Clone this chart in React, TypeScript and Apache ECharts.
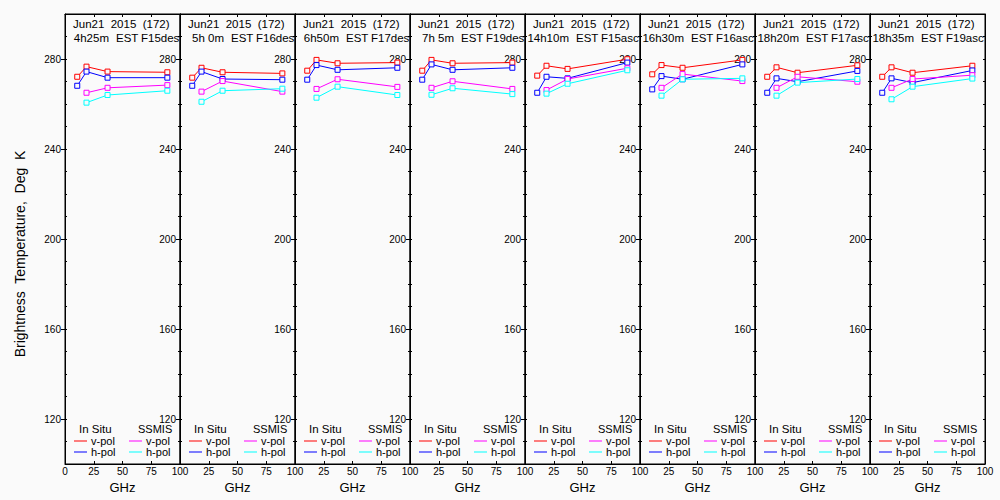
import React, { useEffect, useRef } from 'react';
import * as echarts from 'echarts';

// ---------- data ----------
const freqInSitu = [10.65, 18.7, 37, 89];
const freqSsmis = [18.7, 37, 89];
const dateLabel = 'Jun21  2015  (172)';
const passTimes = ['4h25m', '5h 0m', '6h50m', '7h 5m', '14h10m', '16h30m', '18h20m', '18h35m'];
const zoneLabel = 'EST';
const satellites = ['F15desc', 'F16desc', 'F17desc', 'F19desc', 'F15asc', 'F16asc', 'F17asc', 'F19asc'];

const inSituV = [
  [272.1, 276.6, 274.4, 274.1],
  [271.7, 276.1, 274.1, 273.6],
  [274.8, 279.6, 278.1, 278.4],
  [274.8, 279.6, 278.1, 278.4],
  [272.6, 277.0, 275.6, 279.9],
  [273.2, 277.3, 276.1, 279.6],
  [272.1, 276.3, 273.9, 277.2],
  [272.1, 276.3, 273.9, 277.0],
];
const inSituH = [
  [268.1, 274.4, 271.7, 271.7],
  [268.1, 274.4, 271.1, 270.8],
  [270.8, 277.3, 275.2, 276.1],
  [270.8, 277.6, 275.2, 276.1],
  [265.0, 272.1, 271.4, 278.4],
  [266.5, 272.4, 271.0, 277.6],
  [265.0, 271.4, 269.9, 274.7],
  [265.0, 271.4, 269.5, 274.9],
];
const ssmisV = [
  [265.0, 267.2, 268.4],
  [265.5, 270.2, 265.5],
  [266.7, 271.0, 267.6],
  [267.2, 270.1, 266.7],
  [266.2, 271.1, 275.9],
  [267.2, 273.3, 270.2],
  [267.2, 272.1, 269.9],
  [267.2, 271.1, 272.8],
];
const ssmisH = [
  [260.6, 264.0, 265.9],
  [261.0, 265.9, 266.8],
  [262.8, 267.7, 264.0],
  [264.1, 267.0, 264.4],
  [264.6, 269.0, 275.0],
  [263.7, 271.0, 271.4],
  [263.7, 269.5, 271.1],
  [262.1, 267.7, 271.3],
];
const yMajorTicks = [120, 160, 200, 240, 280];
const yAxisTitle = 'Brightness  Temperature,  Deg  K';
const xAxisTitle = 'GHz';
const legendGroups = ['In Situ', 'SSMIS'];
const legendPols = ['v-pol', 'h-pol'];

// ---------- styling / layout ----------
const BG = '#fafafa';
const FONT = '"Liberation Sans", Arial, sans-serif';
const COLORS = { inV: '#ff0000', inH: '#0000ff', ssV: '#ff00ff', ssH: '#00ffff' };
const PLOT_LEFT = 65;
const PANEL_W = 115;
const PLOT_TOP = 14;
const PLOT_H = 450;

function buildOption() {
  const grids: any[] = [];
  const xAxes: any[] = [];
  const yAxes: any[] = [];
  const series: any[] = [];
  const graphics: any[] = [];

  for (let i = 0; i < passTimes.length; i++) {
    const left = PLOT_LEFT + PANEL_W * i;
    grids.push({
      left,
      top: PLOT_TOP,
      width: PANEL_W,
      height: PLOT_H,
      show: true,
      borderColor: '#000',
      borderWidth: 1,
      backgroundColor: 'transparent',
      containLabel: false,
    });

    const baseX = {
      gridIndex: i,
      type: 'value',
      min: 0,
      max: 100,
      interval: 25,
      splitLine: { show: false },
      axisLine: { show: true, lineStyle: { color: '#000', width: 1 } },
      axisTick: { show: true, inside: true, length: 3, lineStyle: { color: '#000' } },
    };
    xAxes.push({
      ...baseX,
      position: 'bottom',
      name: xAxisTitle,
      nameLocation: 'middle',
      nameGap: 15,
      nameTextStyle: { fontSize: 13, color: '#000', fontFamily: FONT },
      axisLabel: {
        show: true,
        fontSize: 10,
        color: '#000',
        margin: 2,
        fontFamily: FONT,
        showMinLabel: true,
        showMaxLabel: true,
        formatter: (v: number) => (i > 0 && v === 0 ? '' : String(v)),
      },
    });
    xAxes.push({
      ...baseX,
      position: 'top',
      axisLabel: { show: false },
    });

    const baseY = {
      gridIndex: i,
      type: 'value',
      min: 100,
      max: 300,
      splitLine: { show: false },
    };
    // labelled left axis with minor inward ticks
    yAxes.push({
      ...baseY,
      position: 'left',
      interval: 10,
      axisLine: { show: true, lineStyle: { color: '#000', width: 1 } },
      axisTick: { show: true, inside: true, length: 2, lineStyle: { color: '#000' } },
      axisLabel: {
        show: true,
        interval: 0,
        fontSize: 10,
        color: '#000',
        margin: 4,
        fontFamily: FONT,
        formatter: (v: number) => (yMajorTicks.indexOf(v) >= 0 ? String(v) : ''),
      },
    });
    // outward major ticks
    yAxes.push({
      ...baseY,
      position: 'left',
      axisLine: { show: false },
      axisLabel: { show: false },
      axisTick: {
        show: true,
        inside: false,
        length: 4,
        customValues: yMajorTicks,
        lineStyle: { color: '#000' },
      },
    });
    // right side inward ticks
    yAxes.push({
      ...baseY,
      position: 'right',
      interval: 10,
      axisLine: { show: true, lineStyle: { color: '#000', width: 1 } },
      axisLabel: { show: false },
      axisTick: { show: true, inside: true, length: 2, lineStyle: { color: '#000' } },
    });

    const mk = (name: string, freqs: number[], vals: number[], color: string) => ({
      name,
      type: 'line',
      xAxisIndex: 2 * i,
      yAxisIndex: 3 * i,
      data: freqs.map((f, j) => [f, vals[j]]),
      symbol: 'rect',
      symbolSize: 5,
      showSymbol: true,
      lineStyle: { color, width: 1 },
      itemStyle: { color: BG, borderColor: color, borderWidth: 1 },
      emphasis: { disabled: true },
      silent: true,
      z: 3,
    });
    series.push(mk('In Situ v-pol', freqInSitu, inSituV[i], COLORS.inV));
    series.push(mk('In Situ h-pol', freqInSitu, inSituH[i], COLORS.inH));
    series.push(mk('SSMIS v-pol', freqSsmis, ssmisV[i], COLORS.ssV));
    series.push(mk('SSMIS h-pol', freqSsmis, ssmisH[i], COLORS.ssH));

    const txt = (x: number, y: number, text: string, size: number, align = 'left', extra: any = {}) => ({
      type: 'text',
      x,
      y,
      silent: true,
      style: {
        text,
        fill: '#000',
        fontSize: size,
        fontFamily: FONT,
        align,
        verticalAlign: 'middle',
        ...extra,
      },
    });

    // panel titles
    graphics.push(txt(left + 8, 24, dateLabel, 11.5));
    graphics.push(txt(left + 44, 38, passTimes[i], 11.5, 'right'));
    graphics.push(txt(left + 51, 38, zoneLabel, 11.5));
    graphics.push(
      txt(left + 76, 38, satellites[i], 11.5, 'left', { width: 42, overflow: 'truncate', ellipsis: '' })
    );

    // panel legend
    graphics.push(txt(left + 14, 429, legendGroups[0], 11.5, 'left', { lineHeight: 10 }));
    graphics.push(txt(left + 73, 429, legendGroups[1], 11, 'left', { lineHeight: 10 }));
    const rows = [441, 452];
    const keyColors = [
      [COLORS.inV, COLORS.ssV],
      [COLORS.inH, COLORS.ssH],
    ];
    rows.forEach((ry, r) => {
      graphics.push({
        type: 'line',
        silent: true,
        shape: { x1: left + 9, y1: ry, x2: left + 22, y2: ry },
        style: { stroke: keyColors[r][0], lineWidth: 1 },
      });
      graphics.push(txt(left + 26, ry, legendPols[r], 11, 'left', { lineHeight: 10 }));
      graphics.push({
        type: 'line',
        silent: true,
        shape: { x1: left + 64, y1: ry, x2: left + 77, y2: ry },
        style: { stroke: keyColors[r][1], lineWidth: 1 },
      });
      graphics.push(txt(left + 81, ry, legendPols[r], 11, 'left', { lineHeight: 10 }));
    });
  }

  graphics.push({
    type: 'text',
    x: 20,
    y: 254,
    rotation: Math.PI / 2,
    silent: true,
    style: {
      text: yAxisTitle,
      fill: '#000',
      fontSize: 14,
      fontFamily: FONT,
      align: 'center',
      verticalAlign: 'middle',
    },
  });

  return {
    animation: false,
    backgroundColor: BG,
    textStyle: { fontFamily: FONT },
    grid: grids,
    xAxis: xAxes,
    yAxis: yAxes,
    series,
    graphic: graphics,
  };
}

export default function App() {
  const ref = useRef<HTMLDivElement | null>(null);
  useEffect(() => {
    if (!ref.current) return;
    const chart = echarts.init(ref.current, undefined, { renderer: 'svg' });
    chart.setOption(buildOption() as any);
    return () => chart.dispose();
  }, []);
  return (
    <div
      ref={ref}
      style={{ position: 'fixed', left: 0, top: 0, width: 1000, height: 500 }}
    />
  );
}
